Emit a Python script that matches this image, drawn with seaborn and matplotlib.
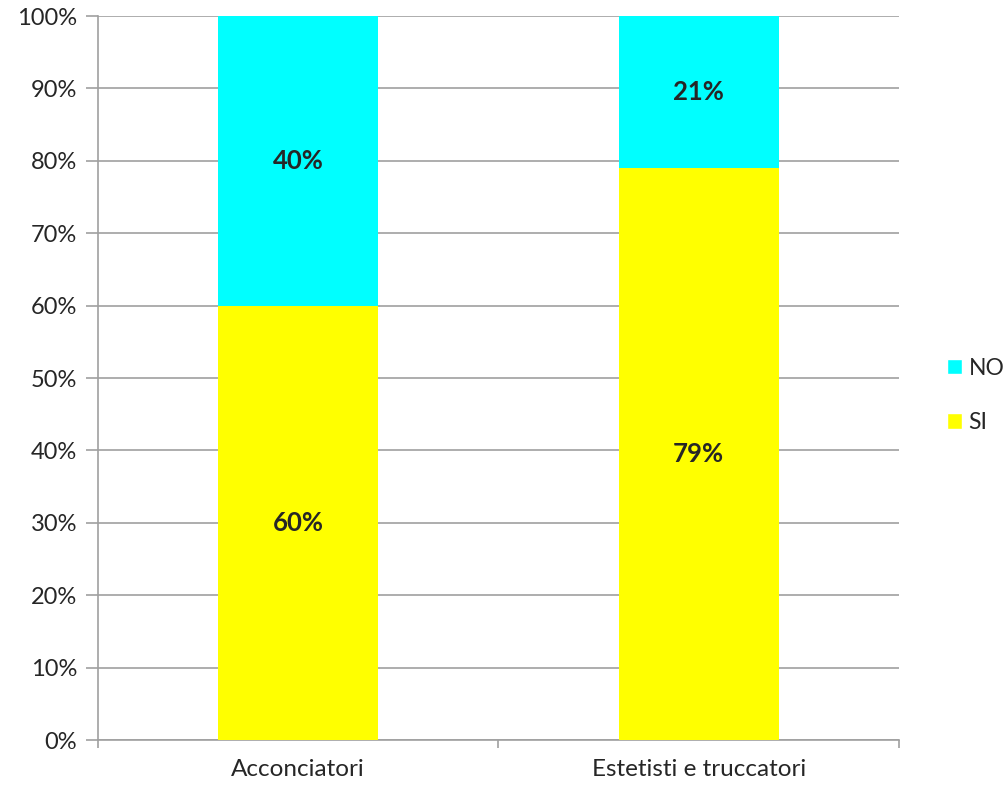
import matplotlib
matplotlib.use("Agg")
import matplotlib.pyplot as plt
from matplotlib.patches import Patch
import seaborn as sns
import pandas as pd

categories = ["Acconciatori", "Estetisti e truccatori"]
si_values = [60, 79]
no_values = [40, 21]
series_names = ["NO", "SI"]
colors = {"NO": "#00FFFF", "SI": "#FFFF00"}

sns.set_style("white", {"xtick.bottom": True, "ytick.left": True})
plt.rcParams["font.family"] = ["Lato", "DejaVu Sans"]

df = pd.DataFrame({"categoria": categories, "SI": si_values, "NO": no_values})
df["totale"] = df["SI"] + df["NO"]

fig = plt.figure(figsize=(10.06, 7.86), dpi=100)
ax = fig.add_axes([0.0974, 0.0585, 0.7962, 0.9211])

sns.barplot(data=df, x="categoria", y="totale", color=colors["NO"], width=0.4,
            saturation=1, linewidth=0, ax=ax, zorder=2)
sns.barplot(data=df, x="categoria", y="SI", color=colors["SI"], width=0.4,
            saturation=1, linewidth=0, ax=ax, zorder=3)

for i, row in df.iterrows():
    ax.text(i, row["SI"] / 2, f"{row['SI']}%", ha="center", va="center",
            fontsize=18.5, fontweight="bold", zorder=4)
    ax.text(i, row["SI"] + row["NO"] / 2, f"{row['NO']}%", ha="center", va="center",
            fontsize=18.5, fontweight="bold", zorder=4)

ax.set_xlim(-0.5, 1.5)
ax.set_ylim(0, 100)
ax.set_yticks(range(0, 101, 10))
ax.set_yticklabels([f"{v}%" for v in range(0, 101, 10)], fontsize=17)
ax.set_xticks([0, 1])
ax.set_xticklabels(categories, fontsize=17.5)
ax.set_xticks([-0.5, 0.5, 1.5], minor=True)
ax.tick_params(axis="x", which="major", bottom=False, length=0, pad=14)
ax.tick_params(axis="x", which="minor", bottom=True, length=6, color="#A0A0A0", width=1.2)
ax.tick_params(axis="y", left=True, length=9, color="#A0A0A0", width=1.2, pad=6)
ax.grid(axis="y", color="#A0A0A0", linewidth=1.2, zorder=0)
ax.set_axisbelow(True)
ax.set_xlabel("")
ax.set_ylabel("")
for side in ["top", "right"]:
    ax.spines[side].set_visible(False)
for side in ["left", "bottom"]:
    ax.spines[side].set_color("#A0A0A0")
    ax.spines[side].set_linewidth(1.2)

handles = [Patch(facecolor=colors[n], label=n) for n in series_names]
fig.legend(handles=handles, loc="center left", bbox_to_anchor=(0.941, 0.497),
           frameon=False, fontsize=16.5, handlelength=0.65, handleheight=0.65,
           handletextpad=0.3, labelspacing=1.45, borderpad=0, borderaxespad=0)

fig.savefig("out.png", dpi=100)
